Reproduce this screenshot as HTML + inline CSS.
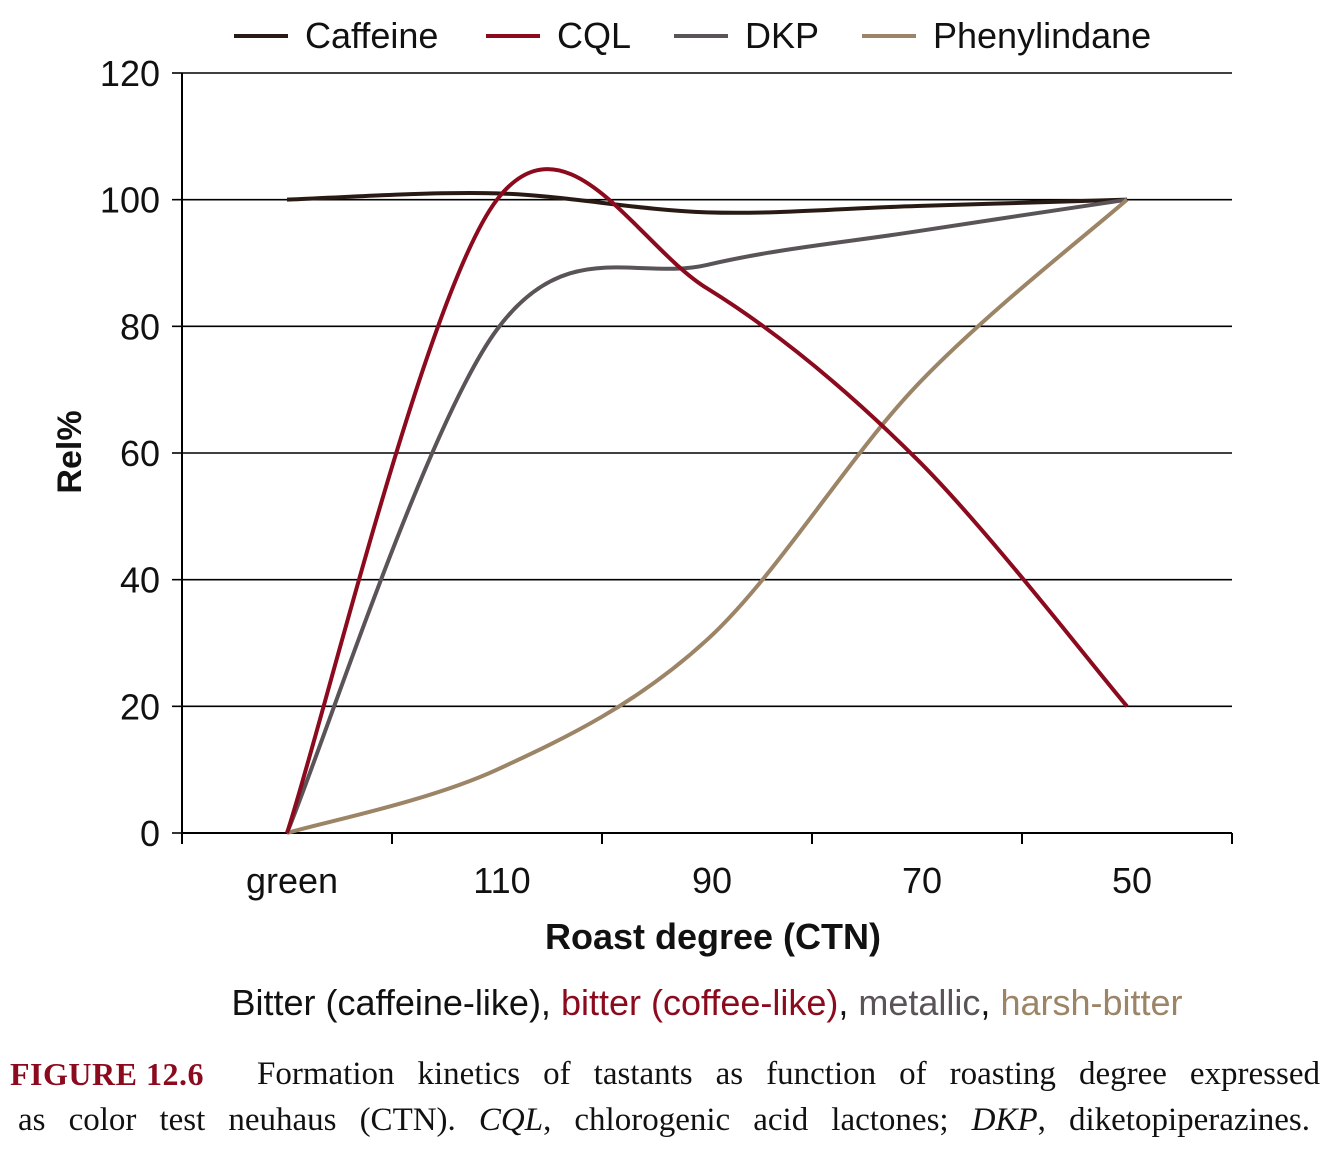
<!DOCTYPE html>
<html><head><meta charset="utf-8"><style>
body{margin:0;background:#fff;width:1331px;height:1152px;overflow:hidden;font-family:"Liberation Sans",sans-serif}
svg{position:absolute;left:0;top:0}
.cap{position:absolute;left:10px;width:1310px;font-family:"Liberation Serif",serif;font-size:33px;color:#111;text-align:justify;text-align-last:justify;line-height:44px;white-space:nowrap}
</style></head><body>
<svg id="chart" width="1331" height="1152"></svg>
<div class="cap" style="top:1052px;text-align:left;text-align-last:left"><span style="color:#8b0a1e;font-weight:bold;font-size:32px;letter-spacing:0.5px">FIGURE 12.6</span><span style="position:absolute;left:247px;right:0;text-align:justify;text-align-last:justify;white-space:normal">Formation kinetics of tastants as function of roasting degree expressed</span></div>
<div class="cap" style="top:1098px;left:18px;width:1292px;white-space:normal">as color test neuhaus (CTN). <i>CQL</i>, chlorogenic acid lactones; <i>DKP</i>, diketopiperazines.</div>
<script>
const categories=["green","110","90","70","50"];
const yTicks=[0,20,40,60,80,100,120];
const caffeine=[100,101,98,99,100];
const cql=[0,100,86,59,20];
const dkp=[0,79.5,89.7,95,100];
const phenyl=[0,10,30.5,70.7,100];
const seriesNames=["Caffeine","CQL","DKP","Phenylindane"];
const seriesColors=["#2a1a14","#8b0a1e","#5a5458","#9c8466"];
const NS="http://www.w3.org/2000/svg";
const svg=document.getElementById('chart');
const X0=182,X1=1232,Y0=833,Y1=73;
const bw=(X1-X0)/categories.length;
const x=i=>X0+bw*(i+0.5);
const y=v=>Y0-(v/120)*(Y0-Y1);
function mk(t,a,txt){const e=document.createElementNS(NS,t);for(const k in a)e.setAttribute(k,a[k]);if(txt!=null)e.textContent=txt;svg.appendChild(e);return e;}
yTicks.forEach(v=>{
 if(v>0){const g=mk('line',{x1:X0,x2:X1,y1:y(v),y2:y(v),stroke:'#000','stroke-width':1.6});
 
 }
 const t=mk('text',{x:160,y:y(v)+13,'text-anchor':'end','font-size':36,fill:'#111'},v);
 
 
 const tk=mk('line',{x1:172,x2:X0,y1:y(v),y2:y(v),stroke:'#000','stroke-width':1.6});
 
 
});
let ax=mk('line',{x1:X0,x2:X0,y1:Y1,y2:843,stroke:'#000','stroke-width':2});

ax=mk('line',{x1:X0,x2:X1,y1:Y0,y2:Y0,stroke:'#000','stroke-width':2});

for(let i=0;i<=categories.length;i++){const t=mk('line',{x1:X0+bw*i,x2:X0+bw*i,y1:Y0,y2:844,stroke:'#000','stroke-width':2});
 }
categories.forEach((c,i)=>{const t=mk('text',{x:x(i)+5,y:893,'text-anchor':'middle','font-size':36,fill:'#111'},c);
 });
function path(vals){const p=vals.map((v,i)=>[x(i),y(v)]);let d='M'+p[0][0]+','+p[0][1];
 for(let i=0;i<p.length-1;i++){const p0=p[Math.max(i-1,0)],p1=p[i],p2=p[i+1],p3=p[Math.min(i+2,p.length-1)];
 const c1=[p1[0]+(p2[0]-p0[0])/6,p1[1]+(p2[1]-p0[1])/6],c2=[p2[0]-(p3[0]-p1[0])/6,p2[1]-(p3[1]-p1[1])/6];
 d+=' C'+c1+' '+c2+' '+p2;}return d;}
[caffeine,dkp,phenyl,cql].forEach((s,k)=>{const idx=[0,2,3,1][k];
 const e=mk('path',{d:path(s),fill:'none',stroke:seriesColors[idx],'stroke-width':4});
 
 });
const lx=[234,486,674,862];
seriesNames.forEach((n,i)=>{const l=mk('line',{x1:lx[i],x2:lx[i]+54,y1:36,y2:36,stroke:seriesColors[i],'stroke-width':4});
 
 const t=mk('text',{x:lx[i]+71,y:48,'font-size':36,fill:'#111'},n);
 });
let t=mk('text',{x:0,y:0,'font-size':34,'font-weight':'bold',fill:'#111','text-anchor':'middle',transform:'translate(81,452) rotate(-90)'},'Rel%');

t=mk('text',{x:713,y:949,'font-size':36,'font-weight':'bold',fill:'#111','text-anchor':'middle'},'Roast degree (CTN)');

t=mk('text',{x:707,y:1015,'font-size':36,fill:'#111','text-anchor':'middle'});

t.innerHTML='<tspan>Bitter (caffeine-like), </tspan><tspan fill="#8b0a1e">bitter (coffee-like)</tspan><tspan>, </tspan><tspan fill="#5a5458">metallic</tspan><tspan>, </tspan><tspan fill="#9c8466">harsh-bitter</tspan>';
</script>
</body></html>
